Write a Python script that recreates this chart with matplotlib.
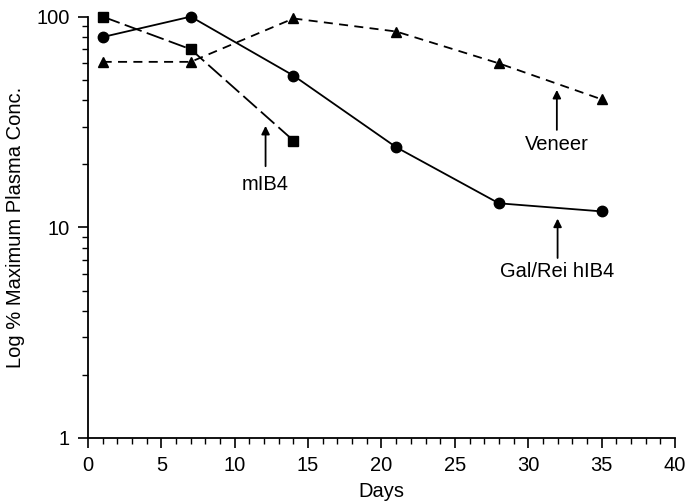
import matplotlib
matplotlib.use("Agg")
import matplotlib.pyplot as plt
from matplotlib.ticker import FixedLocator, NullFormatter, FixedFormatter

plt.rcParams['font.family'] = ['Liberation Sans', 'DejaVu Sans']

# Data
days_gal = [1, 7, 14, 21, 28, 35]
gal_rei = [80, 100, 52.5, 24, 13, 11.9]
days_mib4 = [1, 7, 14]
mib4 = [100, 70, 25.8]
days_veneer = [1, 7, 14, 21, 28, 35]
veneer = [61, 61, 98, 85, 60, 40.5]

x_ticks = [0, 5, 10, 15, 20, 25, 30, 35, 40]
y_ticks = [1, 10, 100]
y_ticklabels = ["1", "10", "100"]

fig = plt.figure(figsize=(6.87, 5.04), dpi=100)
ax = fig.add_axes([0.1281, 0.131, 0.8544, 0.836])

ax.plot(days_gal, gal_rei, color='black', lw=1.3, marker='o', ms=7.5, ls='-', clip_on=False)
ax.plot(days_mib4, mib4, color='black', lw=1.3, marker='s', ms=7, ls=(0, (10, 3)), clip_on=False)
ax.plot(days_veneer, veneer, color='black', lw=1.3, marker='^', ms=7.5, ls=(0, (5, 3.5)), clip_on=False)

ax.set_yscale('log')
ax.set_xlim(0, 40)
ax.set_ylim(1, 100)
ax.spines['top'].set_visible(False)
ax.spines['right'].set_visible(False)
for s in ('left', 'bottom'):
    ax.spines[s].set_linewidth(1.3)

ax.xaxis.set_major_locator(FixedLocator(x_ticks))
ax.xaxis.set_minor_locator(FixedLocator([d for d in range(0, 41) if d % 5]))
ax.yaxis.set_major_locator(FixedLocator(y_ticks))
ax.yaxis.set_major_formatter(FixedFormatter(y_ticklabels))
ax.yaxis.set_minor_locator(FixedLocator([m * 10 ** e for e in (0, 1) for m in range(2, 10)]))
ax.yaxis.set_minor_formatter(NullFormatter())

ax.tick_params(which='major', direction='out', length=7, width=1.2, labelsize=14.5, pad=6)
ax.tick_params(which='minor', direction='out', length=4, width=1.0)

ax.set_xlabel('Days', fontsize=14.5, labelpad=5)
ax.set_ylabel('Log % Maximum Plasma Conc.', fontsize=14.5, labelpad=8)

arrow = dict(arrowstyle='-|>', color='black', lw=1.3, mutation_scale=12, shrinkA=0, shrinkB=0)
ax.annotate('', xy=(12.1, 30.3), xytext=(12.1, 19.5), arrowprops=arrow)
ax.text(12.1, 15.9, 'mIB4', ha='center', va='center', fontsize=14.5)
ax.annotate('', xy=(31.95, 44.9), xytext=(31.95, 29), arrowprops=arrow)
ax.text(31.95, 24.6, 'Veneer', ha='center', va='center', fontsize=14.5)
ax.annotate('', xy=(32.0, 11.0), xytext=(32.0, 7.15), arrowprops=arrow)
ax.text(32.0, 6.16, 'Gal/Rei hIB4', ha='center', va='center', fontsize=14.5)

fig.savefig('out.png', dpi=100)
